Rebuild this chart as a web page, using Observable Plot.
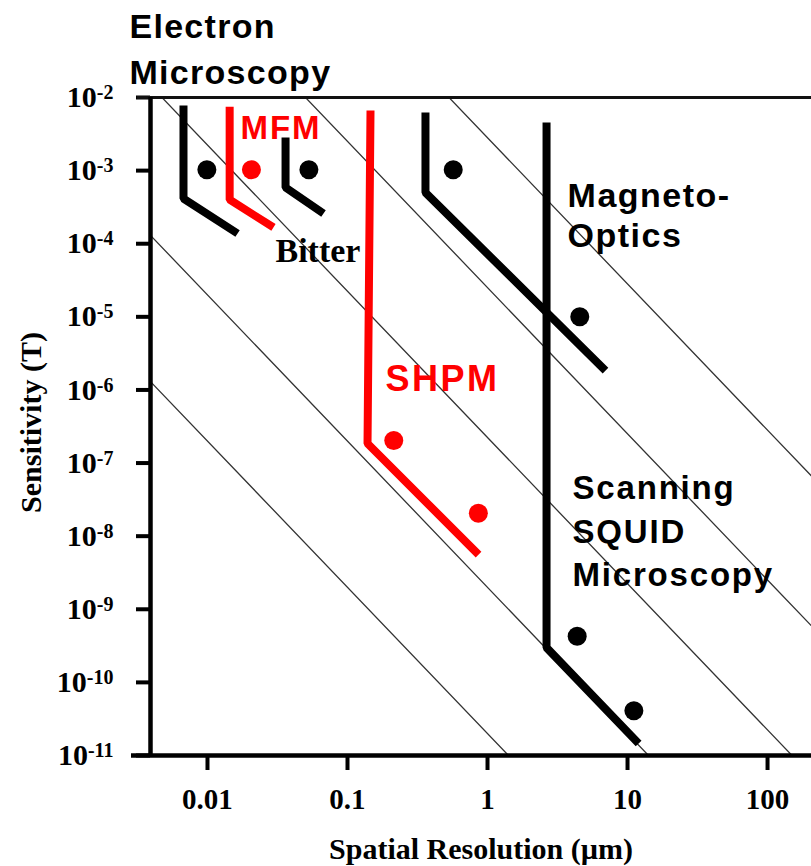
<!DOCTYPE html>
<html>
<head>
<meta charset="utf-8">
<script src="https://cdn.jsdelivr.net/npm/d3@7"></script>
<script src="https://cdn.jsdelivr.net/npm/@observablehq/plot@0.6"></script>
<style>
  html, body { margin: 0; padding: 0; background: #fff; }
  #chart svg { display: block; }
</style>
</head>
<body>
<div id="chart"></div>
<script>
// ---------- data ----------
const xTicks = [0.01, 0.1, 1, 10, 100];
const xTickLabels = ["0.01", "0.1", "1", "10", "100"];
const yTicks = [1e-2, 1e-3, 1e-4, 1e-5, 1e-6, 1e-7, 1e-8, 1e-9, 1e-10, 1e-11];
const yTickExponents = ["-2", "-3", "-4", "-5", "-6", "-7", "-8", "-9", "-10", "-11"];

// guide lines of constant B·d² (log10 of the product, T·µm²)
const guideLogProducts = [-10.7, -8.7, -6.65, -4.6, -2.55];

// technique boundaries (vertex lists: spatial resolution µm, sensitivity T)
const techniques = ["Electron Microscopy", "MFM", "Bitter", "Magneto-Optics", "SHPM", "Scanning SQUID Microscopy"];
const techniqueColors = ["black", "red", "black", "black", "red", "black"];
const boundaryX = [
  [0.00674, 0.00674, 0.0164],
  [0.0144, 0.0144, 0.0296],
  [0.0361, 0.0361, 0.0674],
  [0.3605, 0.3605, 6.96],
  [0.146, 0.139, 0.863],
  [2.64, 2.64, 12.0]
];
const boundaryY = [
  [7.8e-3, 4.15e-4, 1.38e-4],
  [7.5e-3, 4.0e-4, 1.67e-4],
  [2.84e-3, 5.87e-4, 2.59e-4],
  [6.24e-3, 5.0e-4, 1.84e-6],
  [6.64e-3, 1.85e-7, 5.6e-9],
  [4.55e-3, 2.99e-10, 1.46e-11]
];

// measured points
const dotX = [0.0099, 0.0206, 0.053, 0.569, 4.56, 0.214, 0.86, 4.37, 11.1];
const dotY = [1.03e-3, 1.03e-3, 1.03e-3, 1.03e-3, 1.0e-5, 2.03e-7, 2.06e-8, 4.27e-10, 4.1e-11];
const dotColors = ["black", "red", "black", "black", "black", "red", "red", "black", "black"];

// technique labels (anchor in data units)
const labelTexts = ["Electron\nMicroscopy", "MFM", "Bitter", "Magneto-\nOptics", "SHPM", "Scanning\nSQUID\nMicroscopy"];
const labelX = [0.00277, 0.0172, 0.0306, 3.73, 0.1868, 4.05];
const labelY = [0.141, 5.67e-3, 1.22e-4, 6.87e-4, 2.16e-6, 6.74e-8];

// ---------- derived tables ----------
const xDomain = [Math.pow(10, -2.407), Math.pow(10, 2.314)];
const yDomain = [1e-11, 1e-2];

const guides = guideLogProducts.flatMap(c => [
  {c, x: 1e-3, y: Math.pow(10, c) / 1e-6},
  {c, x: 1e3, y: Math.pow(10, c) / 1e6}
]);

const boundaries = techniques.flatMap((t, i) =>
  boundaryX[i].map((x, j) => ({technique: t, color: techniqueColors[i], x, y: boundaryY[i][j]}))
);

const dots = dotX.map((x, i) => ({x, y: dotY[i], color: dotColors[i]}));
const lab = i => [{text: labelTexts[i], x: labelX[i], y: labelY[i]}];

const sans = "Liberation Sans, Arial, Helvetica, sans-serif";
const serif = "Liberation Serif, Times New Roman, serif";

// Plot offsets the first line of multi-line text by 0.71*lineHeight em; compensate
const topFix = (fs, lh) => -0.71 * (lh - 1) * fs;

const chart = Plot.plot({
  width: 811,
  height: 866,
  marginLeft: 150,
  marginRight: 0,
  marginTop: 97,
  marginBottom: 111,
  style: {background: "white", fontFamily: serif, fontWeight: "bold", overflow: "visible"},
  x: {type: "log", domain: xDomain},
  y: {type: "log", domain: yDomain},
  color: {type: "identity"},
  marks: [
    Plot.line(guides, {x: "x", y: "y", z: "c", stroke: "#333", strokeWidth: 1.3, clip: true}),
    Plot.axisX({
      ticks: xTicks,
      tickFormat: d => xTickLabels[xTicks.indexOf(d)],
      tickSize: 15, tickPadding: 18, strokeWidth: 4, stroke: "black",
      fontSize: 29, fontFamily: serif, fontWeight: "bold", fill: "black", label: null
    }),
    Plot.axisY({
      ticks: yTicks,
      tickFormat: d => "10^" + yTickExponents[yTicks.indexOf(d)],
      tickSize: 14, tickPadding: 23, strokeWidth: 4, stroke: "black",
      fontSize: 30, fontFamily: serif, fontWeight: "bold", fill: "black", label: null
    }),
    Plot.ruleY([yDomain[1]], {stroke: "#111", strokeWidth: 3, insetLeft: -13}),
    Plot.ruleY([yDomain[0]], {stroke: "black", strokeWidth: 4.5, insetLeft: -19}),
    Plot.ruleX([xDomain[0]], {stroke: "black", strokeWidth: 4.5}),
    Plot.line(boundaries, {x: "x", y: "y", z: "technique", stroke: "color", strokeWidth: 8,
      strokeLinecap: "butt", strokeLinejoin: "miter"}),
    Plot.dot(dots, {x: "x", y: "y", r: 9.5, fill: "color", stroke: null}),
    // labels
    Plot.text(lab(0), {x: "x", y: "y", text: "text", textAnchor: "start", lineAnchor: "top",
      fontFamily: sans, fontWeight: "bold", fontSize: 34, lineHeight: 1.36, dy: topFix(34, 1.36), fill: "black"}),
    Plot.text(lab(1), {x: "x", y: "y", text: "text", textAnchor: "start", lineAnchor: "top",
      fontFamily: sans, fontWeight: "bold", fontSize: 33, fill: "red"}),
    Plot.text(lab(2), {x: "x", y: "y", text: "text", textAnchor: "start", lineAnchor: "top",
      fontFamily: serif, fontWeight: "bold", fontSize: 34, fill: "black"}),
    Plot.text(lab(3), {x: "x", y: "y", text: "text", textAnchor: "start", lineAnchor: "top",
      fontFamily: sans, fontWeight: "bold", fontSize: 34, lineHeight: 1.18, dy: topFix(34, 1.18), fill: "black"}),
    Plot.text(lab(4), {x: "x", y: "y", text: "text", textAnchor: "start", lineAnchor: "top",
      fontFamily: sans, fontWeight: "bold", fontSize: 36, fill: "red"}),
    Plot.text(lab(5), {x: "x", y: "y", text: "text", textAnchor: "start", lineAnchor: "top",
      fontFamily: sans, fontWeight: "bold", fontSize: 33, lineHeight: 1.32, dy: topFix(33, 1.32), fill: "black"}),
    // axis titles
    Plot.text(["Spatial Resolution (µm)"], {frameAnchor: "bottom", text: d => d, textAnchor: "middle",
      lineAnchor: "bottom", dy: 103, fontFamily: serif, fontWeight: "bold", fontSize: 30, fill: "black"}),
    Plot.text(["Sensitivity (T)"], {frameAnchor: "left", text: d => d, rotate: -90, textAnchor: "middle",
      lineAnchor: "bottom", dx: -110, dy: -4, fontFamily: serif, fontWeight: "bold", fontSize: 30, fill: "black"})
  ]
});

// superscript exponents on the y tick labels
d3.select(chart).selectAll('g[aria-label="y-axis tick label"] text').each(function () {
  const t = d3.select(this);
  const parts = t.text().split("^");
  t.text(parts[0]);
  t.append("tspan").attr("font-size", 20).attr("dy", -8).text(parts[1]);
});
// letter spacing to match the wide lettering of the labels
d3.select(chart).selectAll('g[aria-label="text"] text').each(function () {
  const el = d3.select(this);
  const s = el.text();
  if (s === "SHPM") el.style("letter-spacing", "2.5px");
  else if (s === "MFM") el.style("letter-spacing", "2px");
  else if (s.startsWith("Scanning")) el.style("letter-spacing", "1.8px");
  else if (s.startsWith("Magneto")) el.style("letter-spacing", "1.5px");
  else if (s.startsWith("Electron")) el.style("letter-spacing", "1.3px");
});

document.getElementById("chart").appendChild(chart);
</script>
</body>
</html>
